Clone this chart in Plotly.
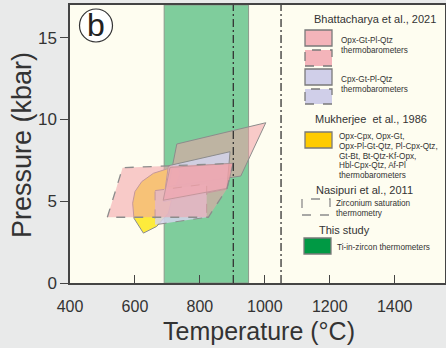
import plotly.graph_objects as go

# ---- data (temperature in °C, pressure in kbar) ----
green_band_T = [690, 950]          # Ti-in-zircon (this study)
zr_sat_T = [903, 1050]             # zircon saturation lines

opx_dashed_T = [515, 562, 903, 883, 826]
opx_dashed_P = [4.02, 7.05, 7.32, 5.75, 4.02]

opx_solid_T = [729, 1003, 926, 703]
opx_solid_P = [8.50, 9.80, 6.54, 5.89]

opx_band_T = [687, 708, 902, 884]
opx_band_P = [5.06, 7.07, 7.32, 5.79]

cpx_solid_T = [703, 893, 883, 688]
cpx_solid_P = [7.17, 8.03, 5.75, 4.98]

cpx_dashed_T = [662, 821, 821, 662]
cpx_dashed_P = [5.65, 6.06, 4.02, 3.56]

muk_T = [626, 667, 703, 718, 739, 734, 698, 657, 621, 600, 593, 597]
muk_P = [3.05, 3.46, 4.27, 5.49, 6.71, 7.01, 6.97, 6.71, 6.20, 5.59, 4.88, 3.96]

x_ticks = [400, 600, 800, 1000, 1200, 1400]
y_ticks = [0, 5, 10, 15]
x_range = [400, 1555]
y_range = [0, 17]

FONT = "Arial, Liberation Sans, sans-serif"
PINK = "rgba(242,160,168,0.55)"
LAV = "rgba(212,212,236,0.85)"
YEL = "#fdeb3c"
GREEN_BAND = "rgba(0,158,72,0.5)"

fig = go.Figure()


def poly(T, P, fill, dash, width=1):
    fig.add_trace(go.Scatter(
        x=T + [T[0]], y=P + [P[0]], mode="lines", fill="toself",
        fillcolor=fill, line=dict(color="#8c8c8c", width=width, dash=dash),
        hoverinfo="skip", showlegend=False))


poly(muk_T, muk_P, YEL, "solid")
poly(opx_solid_T, opx_solid_P, PINK, "solid")
poly(cpx_solid_T, cpx_solid_P, LAV, "solid")
poly(cpx_dashed_T, cpx_dashed_P, LAV, "dash")
poly(opx_band_T, opx_band_P, PINK, "solid")
poly(opx_dashed_T, opx_dashed_P, PINK, "dash", 1.3)

shapes = []
shapes.append(dict(type="rect", xref="x", yref="y", x0=green_band_T[0], x1=green_band_T[1],
                   y0=y_range[0], y1=y_range[1], fillcolor=GREEN_BAND,
                   line=dict(color="#8c9a8c", width=1), layer="below"))
for t in zr_sat_T:
    shapes.append(dict(type="line", xref="x", yref="y", x0=t, x1=t, y0=y_range[0], y1=y_range[1],
                       line=dict(color="#333333", width=1.3, dash="8px,3px,2px,3px")))

# ---- legend drawn in paper coords (pixels -> paper) ----
L, R, T0, B = 70, 445, 5, 283
W, H = R - L, B - T0


def px(x):
    return (x - L) / W


def py(y):
    return (B - y) / H


def swatch(x0, y0, x1, y1, fill, dash="solid", lc="#7a7a7a"):
    shapes.append(dict(type="rect", xref="paper", yref="paper", x0=px(x0), x1=px(x1),
                       y0=py(y1), y1=py(y0), fillcolor=fill,
                       line=dict(color=lc, width=1.3, dash=dash), layer="above"))


swatch(305, 30, 332, 46, "#f4b4ba")
swatch(305, 50, 332, 66, "#f4b4ba", "dash")
swatch(305, 69, 332, 85, "#d0cfe9")
swatch(305, 89, 332, 104, "#d0cfe9", "dash")
swatch(305, 132, 332, 148, "#fecb00")
swatch(302, 199, 330, 215, "rgba(0,0,0,0)", "dash", "#8c8c8c")
swatch(304, 238, 331, 254, "#009944")

shapes.append(dict(type="circle", xref="paper", yref="paper", x0=px(79.5), x1=px(112.5),
                   y0=py(42), y1=py(9), fillcolor="white", line=dict(color="#333", width=1.2),
                   layer="above"))

ann = []


def text(x, y, s, size, anchor="left", color="#333", angle=0):
    ann.append(dict(x=px(x), y=py(y), xref="paper", yref="paper", text=s, showarrow=False,
                    xanchor=anchor, yanchor="middle", textangle=angle,
                    font=dict(family=FONT, size=size, color=color)))


text(375, 18.5, "Bhattacharya et al., 2021", 11, "center")
text(339, 40.5, "Opx-Gt-Pl-Qtz", 8.2)
text(339, 50, "thermobarometers", 8.2)
text(339, 79.5, "Cpx-Gt-Pl-Qtz", 8.2)
text(339, 89.5, "thermobarometers", 8.2)
text(371, 118.5, "Mukherjee  et al., 1986", 11, "center")
for i, s in enumerate(["Opx-Cpx, Opx-Gt,", "Opx-Pl-Gt-Qtz, Pl-Cpx-Qtz,", "Gt-Bt, Bt-Qtz-Kf-Opx,",
                       "Hbl-Cpx-Qtz, Af-Pl", "thermobarometers"]):
    text(337, 136.7 + i * 9.75, s, 8.2)
text(364.5, 189.5, "Nasipuri et al., 2011", 11, "center")
text(334, 203.7, "Zirconium saturation", 8.2)
text(334, 213.3, "thermometry", 8.2)
text(344, 229.5, "This study", 11, "center")
text(335, 247.5, "Ti-in-zircon thermometers", 8.2)
text(96, 25.5, "b", 32, "center", "#222")
# axis titles
text(259, 331, "Temperature (°C)", 25, "center")
text(22, 145, "Pressure (kbar)", 27, "center", angle=-90)

fig.update_layout(
    width=446, height=348,
    margin=dict(l=L, r=446 - R, t=T0, b=348 - B, autoexpand=False),
    paper_bgcolor="#e9eaea", plot_bgcolor="#fefdf0",
    shapes=shapes, annotations=ann, showlegend=False,
    font=dict(family=FONT, color="#333"),
)
fig.update_xaxes(range=x_range, tickvals=x_ticks, ticks="inside", ticklen=8, tickcolor="#444",
                 showline=True, linecolor="#444", linewidth=1.5, mirror=True, showgrid=False,
                 zeroline=False, tickfont=dict(size=16, color="#333"), ticklabelstandoff=8,
                 automargin=False)
fig.update_yaxes(range=y_range, tickvals=y_ticks, ticks="outside", ticklen=8, tickcolor="#444",
                 showline=True, linecolor="#444", linewidth=1.5, mirror=True, showgrid=False,
                 zeroline=False, tickfont=dict(size=17, color="#333"), automargin=False)

fig.write_html("out.html", config={"displayModeBar": False},
               post_script="document.body.style.margin='0';document.body.style.overflow='hidden';")
